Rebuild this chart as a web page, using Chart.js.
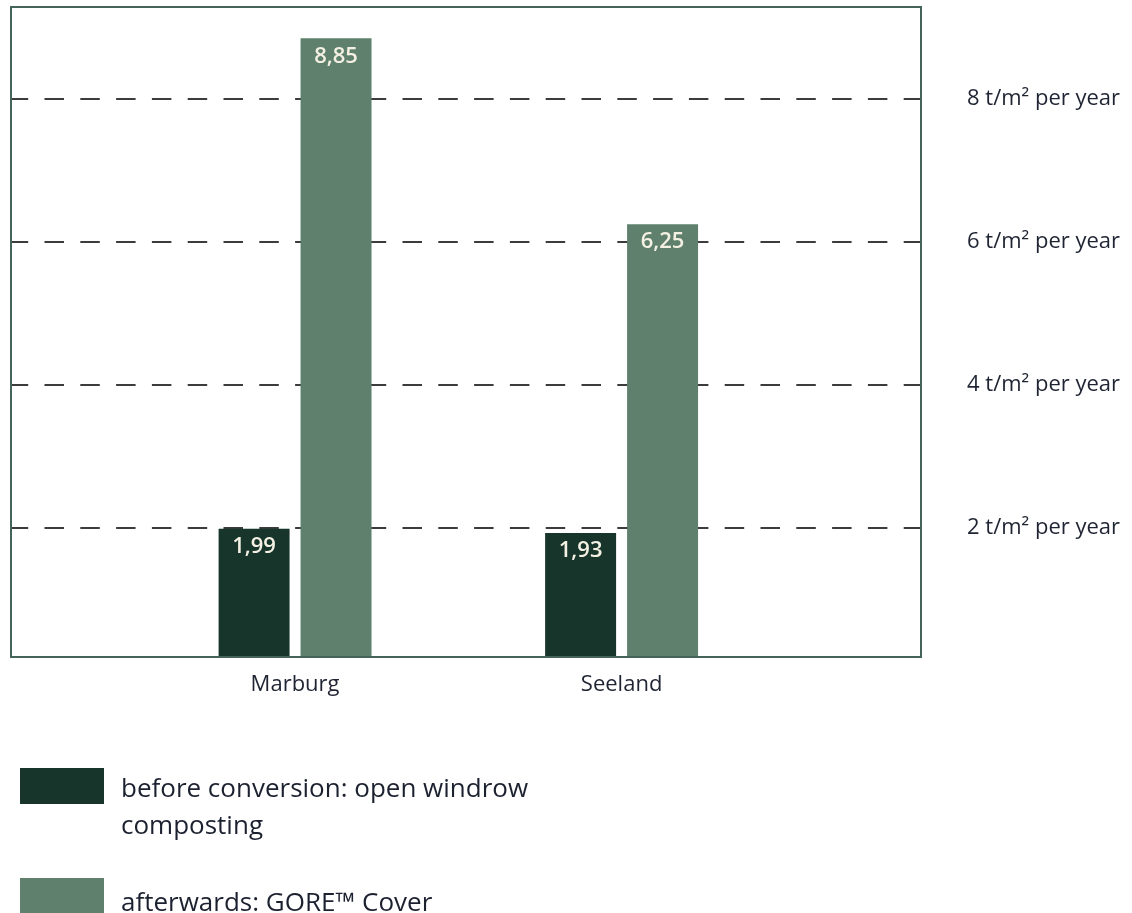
<!DOCTYPE html>
<html>
<head>
<meta charset="utf-8">
<script src="https://cdn.jsdelivr.net/npm/chart.js@4"></script>
<style>
    body { margin: 0; background: #fff; }
    #wrap { position: relative; width: 1132px; height: 913px; overflow: hidden; }
    .leyenda { position: absolute; left: 0; top: 0; font-family: "Open Sans", sans-serif; font-size: 26px; color: #1c2130; }
    .muestra { position: absolute; left: 20px; width: 84px; }
    .texto { position: absolute; left: 121px; line-height: 37px; white-space: nowrap; }
</style>
</head>
<body>
<div id="wrap">
    <canvas id="grafico" width="1132" height="913"></canvas>
    <div class="leyenda">
        <div class="muestra" style="top:768px;height:36px;background:#17352a"></div>
        <div class="texto" style="top:769px">before conversion: open windrow<br>composting</div>
        <div class="muestra" style="top:878px;height:40px;background:#5e806c"></div>
        <div class="texto" style="top:883px">afterwards: GORE™ Cover</div>
    </div>
</div>
<script>
// datos
const categorias = ['Marburg', 'Seeland'];
const antes = [1.99, 1.93];
const despues = [8.85, 6.25];
const ticksY = [2, 4, 6, 8];
const etiquetaY = ' t/m² per year';

const fuente = '"Open Sans", sans-serif';

// marco alrededor del area del grafico
const marco = {
    id: 'marco',
    afterDraw(chart) {
        const { ctx, chartArea: a } = chart;
        ctx.save();
        ctx.strokeStyle = '#45645a';
        ctx.lineWidth = 2;
        ctx.strokeRect(a.left, a.top, a.right - a.left, a.bottom - a.top);
        ctx.restore();
    }
};

// valores dentro de las barras
const valores = {
    id: 'valores',
    afterDatasetsDraw(chart) {
        const ctx = chart.ctx;
        ctx.save();
        ctx.fillStyle = '#f4f1e4';
        ctx.font = '600 22px ' + fuente;
        ctx.textAlign = 'center';
        ctx.textBaseline = 'middle';
        chart.data.datasets.forEach((ds, i) => {
            chart.getDatasetMeta(i).data.forEach((bar, j) => {
                const v = ds.data[j].y;
                ctx.fillText(v.toFixed(2).replace('.', ','), bar.x, bar.y + 18);
            });
        });
        ctx.restore();
    }
};

new Chart(document.getElementById('grafico'), {
    type: 'bar',
    data: {
        datasets: [{
            label: 'before conversion: open windrow composting',
            data: antes.map((v, i) => ({ x: i, y: v })),
            backgroundColor: '#17352a'
        }, {
            label: 'afterwards: GORE™ Cover',
            data: despues.map((v, i) => ({ x: i, y: v })),
            backgroundColor: '#5e806c'
        }]
    },
    options: {
        responsive: false,
        animation: false,
        categoryPercentage: 0.502,
        barPercentage: 0.866,
        layout: { padding: { left: 11, top: 7, right: 0, bottom: 0 } },
        plugins: {
            legend: { display: false },
            tooltip: { enabled: false }
        },
        scales: {
            x: {
                type: 'linear',
                min: -0.87,
                max: 1.917,
                offset: false,
                grid: { display: false },
                border: { display: false },
                afterBuildTicks: s => { s.ticks = categorias.map((c, i) => ({ value: i })); },
                afterFit: s => { s.height = 256; },
                ticks: {
                    autoSkip: false,
                    maxRotation: 0,
                    padding: 7,
                    color: '#1f2433',
                    font: { family: fuente, size: 22, weight: 500 },
                    callback: (v, i) => categorias[i]
                }
            },
            y: {
                position: 'right',
                min: 0.196,
                max: 9.287,
                border: { display: false, dash: [19.5, 16.3], dashOffset: 2.3 },
                grid: {
                    color: '#3c3c3c',
                    lineWidth: 2,
                    drawTicks: false
                },
                afterBuildTicks: s => { s.ticks = ticksY.map(v => ({ value: v })); },
                afterFit: s => {
                    s.width = 211;
                    s.paddingTop = 0;
                    s.paddingBottom = 0;
                },
                ticks: {
                    padding: 46,
                    color: '#1f2433',
                    font: { family: fuente, size: 22, weight: 500 },
                    callback: v => v + etiquetaY
                }
            }
        }
    },
    plugins: [marco, valores]
});
</script>
</body>
</html>
